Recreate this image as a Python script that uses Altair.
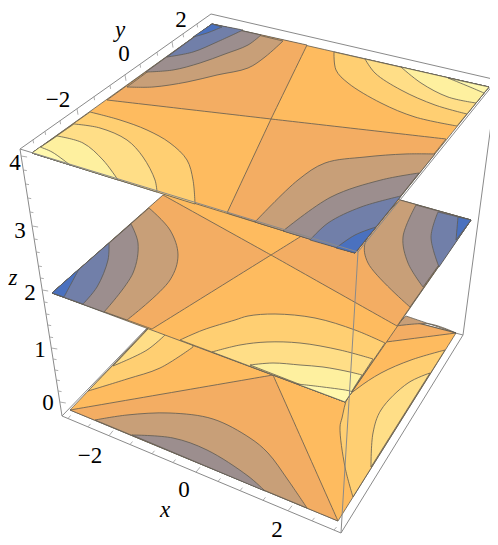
import altair as alt
import pandas as pd

# contour band colours (high to low)
C0 = "#FFF8AE"; C1 = "#FEF09F"; C2 = "#FFDE87"; C3 = "#FFCF72"; C4 = "#FEBB5F"
C5 = "#F3AD63"; C6 = "#C89F78"; C7 = "#9C8E8E"; C8 = "#717FA9"; C9 = "#4A71BF"
LINE = "#5E5A52"
BOX = "#8A8A8A"

# top slice (z = 4): (colour, contour curve, straight closing points)
T_A = (32, 153); T_B = (212, 24); T_C = (489, 87); T_D = (355, 253); T_M = (271, 119)
TOP = [
    (C4, [], [T_A, T_B, T_C, T_D]),
    (C5, [], [T_B, (307, 45), T_M, (107, 100)]),
    (C5, [], [T_M, (446, 139), T_D, (227, 213)]),
    (C3, [(90, 112), (120, 120), (147, 130), (170, 143), (187, 160), (193, 180), (195, 204)], [T_A]),
    (C2, [(74, 124), (100, 128), (127, 140), (143, 157), (155, 180), (157, 192)], [T_A]),
    (C1, [(57, 136), (83, 143), (103, 160), (118, 180)], [T_A]),
    (C0, [(40, 147), (52, 152), (70, 165)], [T_A]),
    (C3, [(334, 52), (336, 70), (348, 83), (381, 103), (415, 117), (457, 126)], [T_C]),
    (C2, [(365, 59), (375, 73), (401, 90), (435, 105), (467, 114)], [T_C]),
    (C1, [(401, 67), (421, 83), (448, 97), (476, 103)], [T_C]),
    (C0, [(448, 78), (470, 87), (484, 93)], [T_C]),
    (C6, [(127, 87), (153, 87), (187, 82), (217, 75), (248, 68), (265, 57), (283, 41)], [T_B]),
    (C7, [(146, 72), (173, 70), (200, 63), (225, 54), (248, 45), (261, 35)], [T_B]),
    (C8, [(167, 57), (193, 52), (217, 42), (243, 30)], [T_B]),
    (C9, [(193, 37), (207, 33), (222, 27)], [T_B]),
    (C6, [(435, 154), (405, 154), (365, 157), (325, 163), (298, 180), (255, 222)], [T_D]),
    (C7, [(419, 173), (381, 180), (331, 197), (283, 231)], [T_D]),
    (C8, [(401, 196), (361, 207), (328, 223), (310, 240)], [T_D]),
    (C9, [(376, 227), (355, 235), (336, 248)], [T_D]),
]

# middle slice (z = 2)
M_L = (52, 293); M_B = (216, 149); M_R = (471, 220); M_F = (345, 402); M_M = (271, 255)
MID = [
    (C4, [], [M_L, M_B, M_R, M_F]),
    (C5, [], [(163, 195), M_M, (152, 329), M_L]),
    (C5, [], [(372, 192), M_R, (397, 326), M_M]),
    (C6, [(149, 208), (170, 230), (178, 255), (170, 280), (127, 320)], [M_L]),
    (C7, [(131, 224), (138, 243), (133, 273), (104, 312)], [M_L]),
    (C8, [(109, 243), (108, 260), (97, 287), (83, 304)], [M_L]),
    (C9, [(79, 269), (64, 297)], [M_L]),
    (C6, [(400, 200), (381, 220), (365, 243), (368, 263), (410, 307)], [M_R]),
    (C7, [(416, 205), (403, 237), (408, 263), (423, 287)], [M_R]),
    (C8, [(438, 212), (431, 237), (439, 267)], [M_R]),
    (C9, [(458, 217), (456, 240)], [M_R]),
    (C3, [(180, 340), (203, 330), (235, 320), (248, 316), (275, 314), (315, 318), (355, 330), (385, 343)], [M_F]),
    (C2, [(212, 352), (240, 345), (267, 342), (300, 343), (340, 350), (373, 359)], [M_F]),
    (C1, [(250, 365), (273, 363), (300, 365), (323, 367), (350, 372), (362, 375)], [M_F]),
    (C0, [(297, 384), (323, 387), (350, 391), (352, 392)], [M_F]),
]

# bottom slice (z = 0)
B_L = (70, 410); B_B = (205, 268); B_R = (456, 333); B_F = (338, 521); B_M = (273, 375)
BOT = [
    (C4, [], [B_L, B_B, B_R, B_F]),
    (C5, [], [B_L, B_M, B_F]),
    (C5, [], [B_M, (386, 342), B_R, B_B]),
    (C6, [(396, 326), (430, 324), B_R], [(406, 316)]),
    (C6, [(95, 420), (127, 415), (170, 413), (213, 419), (250, 438), (268, 453), (288, 480), (307, 508)], []),
    (C7, [(132, 435), (173, 438), (207, 450), (248, 476), (265, 491)], []),
    (C3, [(88, 391), (127, 379), (160, 368), (193, 347)], [(190, 300), (148, 329)]),
    (C2, [(113, 366), (147, 350), (165, 335)], [(170, 300), (148, 329)]),
    (C3, [(445, 350), (411, 360), (381, 373), (358, 388), (348, 397), (342, 418), (340, 427), (345, 467), (353, 497)], []),
    (C2, [(430, 373), (408, 383), (381, 410), (373, 433), (371, 467)], []),
]

# box edges behind and in front of the slices
BOX_BACK = [((62, 416), (205, 268)), ((205, 268), (463, 335))]
BOX_FRONT = [
    ((20, 149), (211, 14)), ((211, 14), (497, 80)), ((497, 80), (358, 252)), ((20, 149), (358, 252)),
    ((20, 149), (62, 416)), ((62, 416), (341, 533)), ((341, 533), (463, 335)),
    ((497, 80), (463, 335)), ((358, 252), (341, 533)),
]

# tick positions read along the box edges
Z_MAJOR = [156, 226, 290, 348, 402]
Z_MINOR = [170, 184, 198, 212, 239, 252, 266, 278, 302, 314, 325, 337, 359, 370, 380, 391]
X_MAJOR = [109, 196, 288]
X_MINOR = [68, 88, 130, 152, 173, 218, 240, 263, 312, 334]
Y_MAJOR = [77, 125, 172]
Y_MINOR = [33, 45, 60, 94, 110, 140, 157, 183, 197]

LABELS_ROMAN = [("2", 181, 20), ("0", 124, 54), ("\u22122", 58, 100),
                ("\u22122", 90, 456), ("0", 184, 490), ("2", 277, 530),
                ("4", 15, 163), ("3", 20, 231), ("2", 30, 293), ("1", 40, 350), ("0", 48, 403)]
LABELS_ITALIC = [("y", 120, 30), ("x", 165, 510), ("z", 13, 278)]

XS = alt.Scale(domain=[8, 490])
YS = alt.Scale(domain=[545, 8])
X = alt.X("x:Q", scale=XS, axis=None)
Y = alt.Y("y:Q", scale=YS, axis=None)


def region(colour, curve, closing):
    # doubled points keep a sharp corner on the smooth path
    pts = []
    for k, p in enumerate(curve):
        pts.append(p)
        if k in (0, len(curve) - 1):
            pts.append(p)
    for p in closing:
        pts += [p, p]
    pts += [pts[0], pts[0]]
    df = pd.DataFrame({"x": [p[0] for p in pts], "y": [p[1] for p in pts], "i": range(len(pts))})
    return alt.Chart(df).mark_line(fill=colour, stroke=LINE, strokeWidth=0.8,
                                   interpolate="catmull-rom").encode(x=X, y=Y, order=alt.Order("i:Q"))


def rules(segs, width=1.0, colour=BOX):
    df = pd.DataFrame([{"x": a[0], "y": a[1], "x2": b[0], "y2": b[1]} for a, b in segs])
    return alt.Chart(df).mark_rule(color=colour, strokeWidth=width).encode(
        x=X, y=Y, x2=alt.X2("x2:Q"), y2=alt.Y2("y2:Q"))


def texts(rows, **kw):
    df = pd.DataFrame(rows, columns=["t", "x", "y"])
    return alt.Chart(df).mark_text(font="Liberation Serif", fontSize=23, color="#000000",
                                   align="center", baseline="middle", **kw).encode(x=X, y=Y, text="t:N")


tick_segs = []
for y_ in Z_MAJOR:
    x_ = 20 + (y_ - 149) * 42 / 267
    tick_segs.append(((x_, y_), (x_ + 6, y_ + 1)))
for y_ in Z_MINOR:
    x_ = 20 + (y_ - 149) * 42 / 267
    tick_segs.append(((x_, y_), (x_ + 3.5, y_ + 0.6)))
for x_ in X_MAJOR:
    y_ = 416 + (x_ - 62) * 117 / 279
    tick_segs.append(((x_, y_), (x_ + 4, y_ - 5)))
for x_ in X_MINOR:
    y_ = 416 + (x_ - 62) * 117 / 279
    tick_segs.append(((x_, y_), (x_ + 2.5, y_ - 3)))
for x_ in Y_MAJOR:
    y_ = 149 - (x_ - 20) * 135 / 191
    tick_segs.append(((x_, y_), (x_ + 1, y_ + 6)))
for x_ in Y_MINOR:
    y_ = 149 - (x_ - 20) * 135 / 191
    tick_segs.append(((x_, y_), (x_ + 0.6, y_ + 3.5)))

layers = [rules(BOX_BACK)]
for c, cv, cl in BOT + MID + TOP:
    layers.append(region(c, cv, cl))
layers += [rules(BOX_FRONT), rules(tick_segs, 0.8, "#999999"),
           texts(LABELS_ROMAN), texts(LABELS_ITALIC, fontStyle="italic")]

chart = alt.layer(*layers).properties(
    width=482, height=537, padding=0, autosize=alt.AutoSizeParams(type="none")
).configure_view(stroke=None)

chart.save("out.html", embed_options={"renderer": "svg", "actions": False})
